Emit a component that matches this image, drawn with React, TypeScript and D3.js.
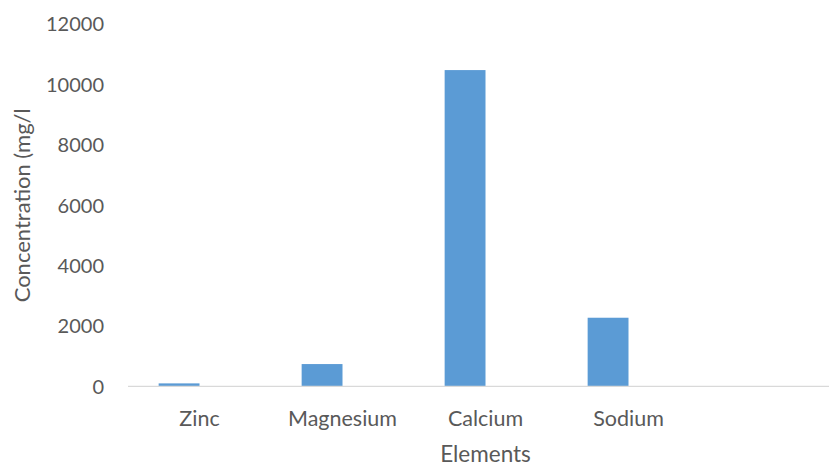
import React from "react";
import * as d3 from "d3";

const categories = ["Zinc", "Magnesium", "Calcium", "Sodium", ""];
const seriesNames = ["Concentration", "Series2"];
const concentration = [100, 740, 10480, 2275, null];
const series2 = [null, null, null, null, null];
const yTicks = [0, 2000, 4000, 6000, 8000, 10000, 12000];

const W = 829;
const H = 468;
const left = 128;
const bandW = 143;
const top = 24.2;
const bottom = 386.4;
const FONT = "Lato, Calibri, 'Noto Sans', sans-serif";
const TXT = "#595959";

export default function App() {
  const keys = categories.map((c, i) => c + "|" + i);
  const x = d3
    .scaleBand<string>()
    .domain(keys)
    .range([left, left + bandW * categories.length])
    .paddingInner(0)
    .paddingOuter(0);
  const y = d3.scaleLinear().domain([0, 12000]).range([bottom, top]);
  const inner = d3
    .scaleBand<string>()
    .domain(seriesNames)
    .range([0, x.bandwidth()])
    .paddingInner(0)
    .paddingOuter(0.75);
  const allSeries = [concentration, series2];

  return (
    <svg width={W} height={H} style={{ position: "absolute", left: 0, top: 0, background: "#fff" }}>
      <rect width={W} height={H} fill="#fff" />
      {allSeries.map((s, si) =>
        s.map((v, i) =>
          v == null ? null : (
            <rect
              key={si + "-" + i}
              x={(x(keys[i]) as number) + (inner(seriesNames[si]) as number)}
              y={y(v)}
              width={inner.bandwidth()}
              height={y(0) - y(v)}
              fill="#5b9bd5"
            />
          )
        )
      )}
      <line x1={left} x2={W} y1={y(0)} y2={y(0)} stroke="#d9d9d9" strokeWidth={1.3} />
      {yTicks.map((t) => (
        <text
          key={t}
          x={104}
          y={y(t)}
          dy="0.36em"
          textAnchor="end"
          fontFamily={FONT}
          fontSize={20}
          fill={TXT}
        >
          {t}
        </text>
      ))}
      {categories.map((c, i) => (
        <text
          key={i}
          x={(x(keys[i]) as number) + x.bandwidth() / 2}
          y={426}
          textAnchor="middle"
          fontFamily={FONT}
          fontSize={21.5}
          fill={TXT}
        >
          {c}
        </text>
      ))}
      <text
        x={left + (bandW * categories.length) / 2}
        y={462}
        textAnchor="middle"
        fontFamily={FONT}
        fontSize={22.5}
        fill={TXT}
      >
        Elements
      </text>
      <text
        transform={`translate(30,${(top + bottom) / 2}) rotate(-90)`}
        textAnchor="middle"
        fontFamily={FONT}
        fontSize={22}
        fill={TXT}
      >
        Concentration (mg/l
      </text>
    </svg>
  );
}
